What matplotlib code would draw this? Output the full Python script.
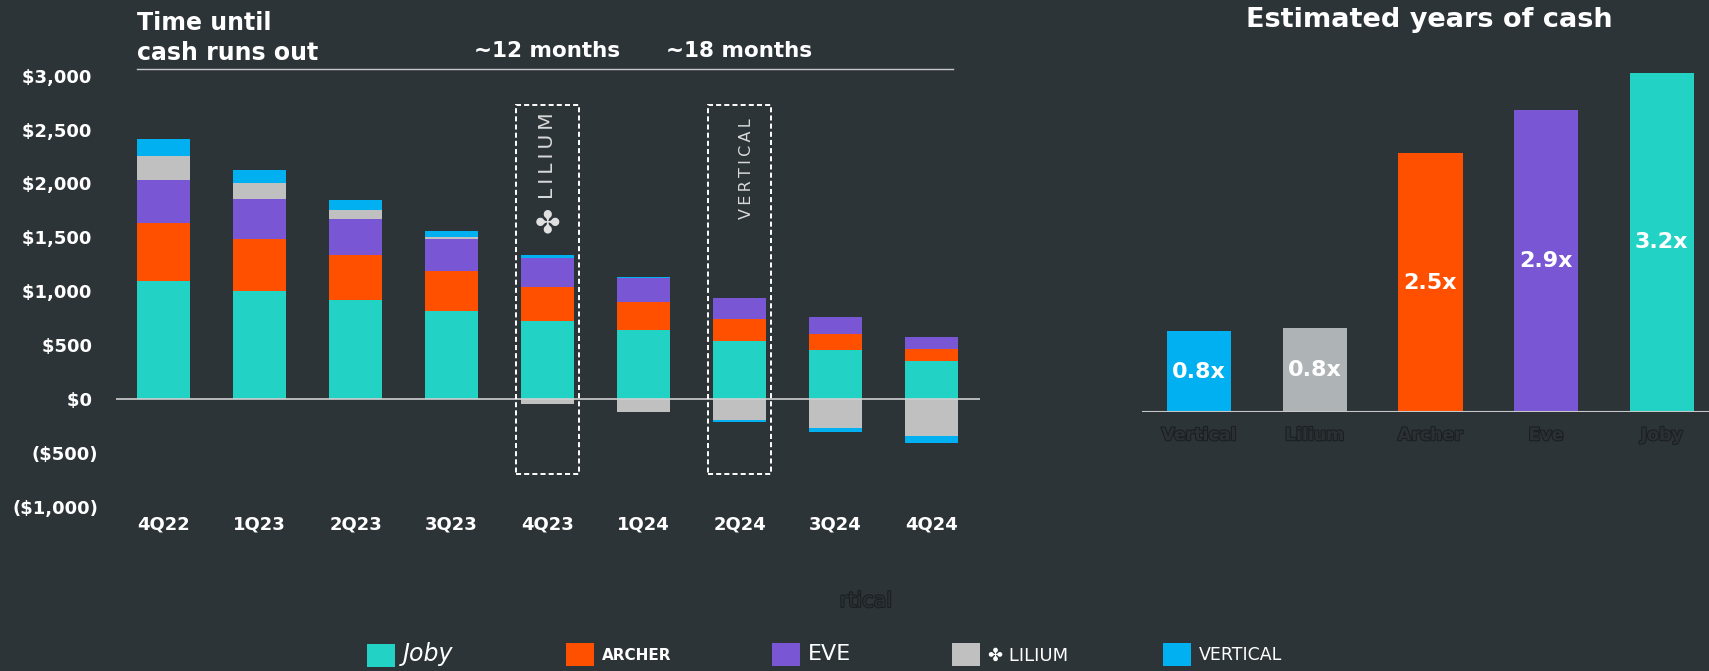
import numpy as np
import matplotlib.pyplot as plt
import matplotlib.patheffects as pe
from matplotlib.patches import Rectangle

# data ($M of cash, per quarter)
quarters = ['4Q22', '1Q23', '2Q23', '3Q23', '4Q23', '1Q24', '2Q24', '3Q24', '4Q24']
joby = [1096, 1006, 916, 820, 728, 643, 541, 452, 353]
archer = [534, 482, 421, 371, 315, 257, 205, 154, 111]
eve = [400, 365, 337, 297, 269, 220, 195, 158, 112]
lilium = [223, 155, 84, 19, -50, -124, -199, -270, -341]
vertical = [155, 121, 93, 56, 28, 16, -18, -40, -68]

companies = ['Vertical', 'Lilium', 'Archer', 'Eve', 'Joby']
years_cash = [0.78, 0.81, 2.49, 2.90, 3.26]
years_labels = ['0.8x', '0.8x', '2.5x', '2.9x', '3.2x']

legend_names = ['Joby', 'ARCHER', 'EVE', '\u2724 LILIUM', 'VERTICAL']

BG = '#2d3438'
TEAL = '#22d3c5'
ORANGE = '#ff5000'
PURPLE = '#7856d4'
GREY = '#c0c0c0'
GREY2 = '#aeb4b6'
BLUE = '#00b0f0'

plt.rcParams['font.family'] = ['DejaVu Sans']

W, H = 1709, 671
fig = plt.figure(figsize=(W / 100, H / 100), dpi=100, facecolor=BG)
ghost = [pe.withStroke(linewidth=1.6, foreground='#1b1f22')]

# ---- left: stacked cash bars
ax = fig.add_axes([116 / W, 1 - 506.7 / H, 864 / W, 431 / H])
ax.set_facecolor(BG)
x = np.arange(len(quarters))
series = [(joby, TEAL), (archer, ORANGE), (eve, PURPLE), (lilium, GREY), (vertical, BLUE)]
pos = np.zeros(len(x))
neg = np.zeros(len(x))
handles = []
for vals, col in series:
    v = np.array(vals, dtype=float)
    bottom = np.where(v >= 0, pos, neg)
    b = ax.bar(x, v, 0.55, bottom=bottom, color=col, zorder=2)
    handles.append(b)
    pos = np.where(v >= 0, pos + v, pos)
    neg = np.where(v < 0, neg + v, neg)

ax.axhline(0, color='#d0d0d0', lw=1.2, zorder=3)
ax.set_xlim(-0.495, 8.505)
ax.set_ylim(-1000, 3000)
ax.set_yticks(np.arange(-1000, 3001, 500))
ax.set_yticklabels([f'${v:,} ' if v >= 0 else f'(${-v:,})' for v in range(-1000, 3001, 500)])
ax.set_xticks(x)
ax.set_xticklabels(quarters)
ax.tick_params(axis='y', length=0, pad=13, labelsize=13, labelcolor='white')
ax.tick_params(axis='x', length=0, pad=6, labelsize=13, labelcolor='white')
for t in ax.get_xticklabels() + ax.get_yticklabels():
    t.set_fontweight('bold')
for s in ax.spines.values():
    s.set_visible(False)

# dashed boxes around the quarters where Lilium / Vertical run out
for i in [4, 6]:
    ax.add_patch(Rectangle((i - 0.33, -695), 0.66, 3420, fill=False, ec='white',
                           lw=1.4, ls=(0, (2.6, 1.6)), zorder=4, clip_on=False))
ax.text(4, 2255, '\u2009'.join('LILIUM'), rotation=90, ha='center', va='center',
        color='#d9d9d9', fontsize=14.5)
ax.text(4, 1620, '\u2724', ha='center', va='center', color='#e0e0e0', fontsize=22)
ax.text(6.07, 2140, '\u2009'.join('VERTICAL'), rotation=90, ha='center', va='center',
        color='#d9d9d9', fontsize=11.5)

# header
ax.plot([-0.276, 8.22], [3061, 3061], color='#c8c8c8', lw=1, clip_on=False)
ax.text(4, 3175, '~12 months', ha='center', va='baseline', color='white',
        fontsize=15.5, fontweight='bold')
ax.text(6, 3175, '~18 months', ha='center', va='baseline', color='white',
        fontsize=15.5, fontweight='bold')
fig.text(137 / W, 1 - 11 / H, 'Time until\ncash runs out', ha='left', va='top',
         color='white', fontsize=17, fontweight='bold', linespacing=1.32)

# ---- right: estimated years of cash
ax2 = fig.add_axes([1142 / W, 1 - 412.3 / H, 567 / W, 364.7 / H])
ax2.set_facecolor(BG)
xr = np.arange(len(companies))
bars = ax2.bar(xr, years_cash, 0.555, color=[BLUE, GREY2, ORANGE, PURPLE, TEAL], zorder=2)
ax2.bar_label(bars, labels=years_labels, label_type='center', color='white',
              fontsize=16, fontweight='bold')
ax2.axhline(0, color='#c8c8c8', lw=1.5, zorder=3)
ax2.set_xlim(-0.493, 4.408)
ax2.set_ylim(0, 3.5)
ax2.set_yticks([])
ax2.set_xticks(xr)
ax2.set_xticklabels(companies)
ax2.tick_params(axis='x', length=0, pad=10, labelsize=12.5, labelcolor='#2a3034')
for t in ax2.get_xticklabels():
    t.set_fontweight('bold')
    t.set_path_effects(ghost)
for s in ax2.spines.values():
    s.set_visible(False)
fig.text(1429 / W, 1 - 20 / H, 'Estimated years of cash', ha='center', va='center',
         color='white', fontsize=19.5, fontweight='bold')

# faint leftover text
fig.text(866 / W, 1 - 601 / H, 'rtical', ha='center', va='center', color='#2a3034',
         fontsize=15, path_effects=ghost)

# legend: one entry per logo slot along the bottom
legend_x = [367, 566, 772, 952, 1163]
legend_size = [17, 11, 16, 13, 12.5]
legend_style = [('italic', 'normal'), ('normal', 'bold'), ('normal', 'normal'),
                ('normal', 'normal'), ('normal', 'normal')]
for h, name, lx, fs, (st, fw) in zip(handles, legend_names, legend_x, legend_size, legend_style):
    leg = fig.legend([h], [name], loc='center left', bbox_to_anchor=(lx / W, 1 - 654.5 / H),
                     frameon=False, fontsize=13, handlelength=1.55, handleheight=1.55,
                     handletextpad=0.45, borderpad=0, borderaxespad=0, labelcolor='white')
    t = leg.get_texts()[0]
    t.set_fontsize(fs)
    t.set_style(st)
    t.set_fontweight(fw)

fig.savefig('out.png', dpi=100, facecolor=BG)
